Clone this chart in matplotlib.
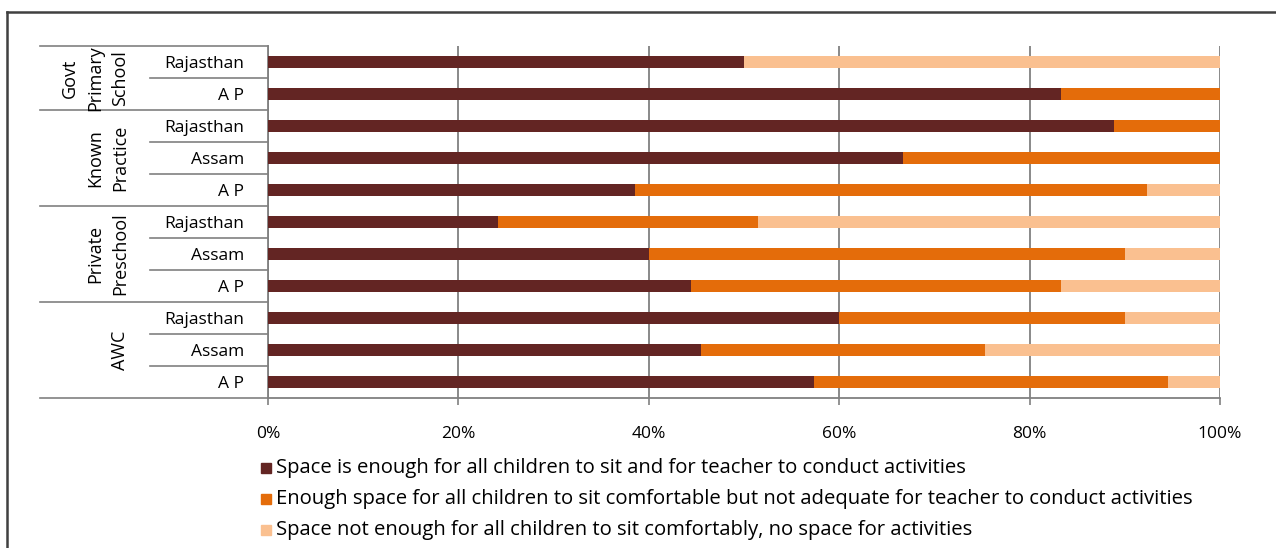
import numpy as np
import matplotlib.pyplot as plt
from matplotlib.lines import Line2D
from matplotlib.patches import Rectangle

plt.rcParams['font.family'] = ['Open Sans', 'DejaVu Sans']

# rows top to bottom
groups = ['Govt\nPrimary\nSchool', 'Known\nPractice', 'Private\nPreschool', 'AWC']
group_sizes = [2, 3, 3, 3]
states = ['Rajasthan', 'A P',
          'Rajasthan', 'Assam', 'A P',
          'Rajasthan', 'Assam', 'A P',
          'Rajasthan', 'Assam', 'A P']

enough = [50.0, 83.3, 88.9, 66.7, 38.5, 24.2, 40.0, 44.4, 60.0, 45.5, 57.4]
sit_only = [0.0, 16.7, 11.1, 33.3, 53.8, 27.3, 50.0, 38.9, 30.0, 29.8, 37.1]
not_enough = [50.0, 0.0, 0.0, 0.0, 7.7, 48.5, 10.0, 16.7, 10.0, 24.7, 5.5]

series = [enough, sit_only, not_enough]
colors = ['#632523', '#E46C0A', '#FAC090']
legend_labels = [
    'Space is enough for all children to sit and for teacher to conduct activities',
    'Enough space for all children to sit comfortable but not adequate for teacher to conduct activities',
    'Space not enough for all children to sit comfortably, no space for activities',
]

W, H = 1276, 548
fig = plt.figure(figsize=(W / 100, H / 100), dpi=100)
ax = fig.add_axes([268 / W, 1 - 398 / H, (1220 - 268) / W, (398 - 46) / H])

y = np.arange(len(states))
left = np.zeros(len(states))
for vals, c in zip(series, colors):
    ax.barh(y, vals, left=left, height=0.4, color=c, zorder=3)
    left += np.array(vals)

ax.set_xlim(0, 100)
ax.set_ylim(len(states) - 0.5, -0.5)
ax.set_xticks([0, 20, 40, 60, 80, 100])
ax.set_xticklabels(['0%', '20%', '40%', '60%', '80%', '100%'], fontsize=12.5)
ax.tick_params(axis='x', length=5, color='#808080', width=1.2, pad=15)
ax.grid(axis='x', color='#808080', lw=1.3, zorder=1)

ax.set_yticks(y)
ax.set_yticklabels(states, fontsize=12.5)
ax.tick_params(axis='y', length=0, pad=17)

for s in ['top', 'right']:
    ax.spines[s].set_visible(False)
for s in ['left', 'bottom']:
    ax.spines[s].set_color('#808080')
    ax.spines[s].set_linewidth(1.3)

# category table on the left
tr = ax.get_yaxis_transform()
x_outer = (40 - 268) / 952
x_inner = (150 - 268) / 952
start = 0
bounds = [-0.5]
for name, n in zip(groups, group_sizes):
    for k in range(1, n):
        ax.add_line(Line2D([x_inner, 0], [start + k - 0.5] * 2, transform=tr,
                           color='#808080', lw=1.2, clip_on=False))
    ax.text((129 - 268) / 952, start + (n - 1) / 2, name, transform=tr,
            rotation=90, ha='right', va='center', multialignment='center',
            fontsize=13, linespacing=1.5)
    start += n
    bounds.append(start - 0.5)
for b in bounds:
    ax.add_line(Line2D([x_outer, 0], [b, b], transform=tr,
                       color='#808080', lw=1.2, clip_on=False))

# legend
for i, (lab, c) in enumerate(zip(legend_labels, colors)):
    yc = 1 - (468 + i * 31) / H
    fig.patches.append(Rectangle((261 / W, yc - 5 / H), 10 / W, 10 / H,
                                 color=c, transform=fig.transFigure))
    fig.text(276 / W, yc, lab, ha='left', va='center', fontsize=14.6)

# outer frame (top and left)
fig.add_artist(Line2D([7 / W, 1], [1 - 12 / H] * 2, color='#404040', lw=1.8))
fig.add_artist(Line2D([7 / W] * 2, [0, 1 - 12 / H], color='#404040', lw=1.8))

fig.savefig('out.png', dpi=100)
